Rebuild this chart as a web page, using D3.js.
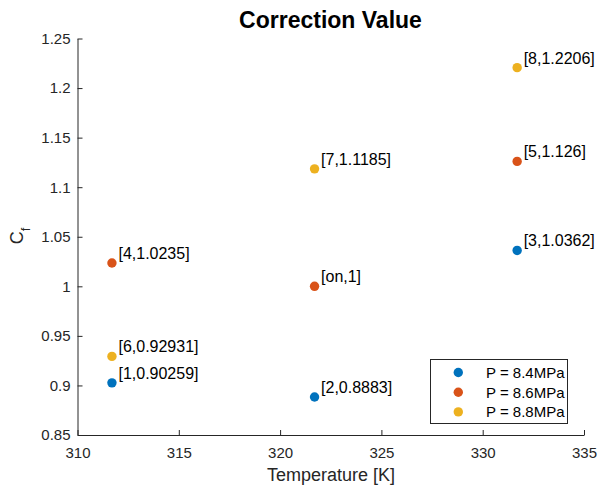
<!DOCTYPE html>
<html>
<head>
<meta charset="utf-8">
<script src="https://cdn.jsdelivr.net/npm/d3@7"></script>
<style>
  html, body { margin: 0; padding: 0; background: #fff; }
  svg { display: block; font-family: "Liberation Sans", Arial, Helvetica, sans-serif; }
</style>
</head>
<body>
<svg id="chart" width="599" height="486"></svg>
<script>
// Temperatures (K) at which the correction factor was evaluated
const temperatures = [311.7, 321.7, 331.7];

// Correction factor per pressure series
const seriesNames = ["P = 8.4MPa", "P = 8.6MPa", "P = 8.8MPa"];
const cf84 = [0.90259, 0.8883, 1.0362];
const cf86 = [1.0235, 1.0, 1.126];
const cf88 = [0.92931, 1.1185, 1.2206];
const seriesColors = ["#0072BD", "#D95319", "#EDB120"];

// Point annotations (index, value) for each series
const tipIds84 = ["1", "2", "3"];
const tipIds86 = ["4", "on", "5"];
const tipIds88 = ["6", "7", "8"];

const xTicks = [310, 315, 320, 325, 330, 335];
const yTicks = [0.85, 0.9, 0.95, 1, 1.05, 1.1, 1.15, 1.2, 1.25];

const series = [
  { name: seriesNames[0], values: cf84, ids: tipIds84, color: seriesColors[0] },
  { name: seriesNames[1], values: cf86, ids: tipIds86, color: seriesColors[1] },
  { name: seriesNames[2], values: cf88, ids: tipIds88, color: seriesColors[2] }
];

const svg = d3.select("#chart");
const axisColor = "#262626";

const x = d3.scaleLinear().domain([310, 335]).range([77.5, 584]);
const y = d3.scaleLinear().domain([0.85, 1.25]).range([435, 38.5]);

// Axes (MATLAB-style: inward ticks, no box)
const xAxis = d3.axisBottom(x).tickValues(xTicks).tickSizeInner(-5).tickSizeOuter(0)
  .tickPadding(12).tickFormat(d3.format("d"));
const yAxis = d3.axisLeft(y).tickValues(yTicks).tickSizeInner(-5).tickSizeOuter(0)
  .tickPadding(12).tickFormat(d => String(+d.toFixed(2)));

const gx = svg.append("g").attr("transform", `translate(0,${y.range()[0]})`).call(xAxis);
const gy = svg.append("g").attr("transform", `translate(${x.range()[0]},0)`).call(yAxis);

[gx, gy].forEach(g => {
  g.select(".domain").attr("stroke", axisColor).attr("stroke-width", 1);
  g.selectAll(".tick line").attr("stroke", axisColor).attr("stroke-width", 1);
  g.selectAll(".tick text").attr("fill", axisColor).attr("font-size", 15)
    .attr("font-family", "Liberation Sans, Arial, sans-serif");
});
gx.selectAll(".tick text").attr("dy", "0.71em").attr("y", 12);
gy.selectAll(".tick text").attr("x", -7);

// Title
svg.append("text")
  .attr("x", 330.5).attr("y", 27.5)
  .attr("text-anchor", "middle")
  .attr("font-size", 23).attr("font-weight", "bold").attr("fill", "#000")
  .text("Correction Value");

// Axis labels
svg.append("text")
  .attr("x", 331).attr("y", 481)
  .attr("text-anchor", "middle")
  .attr("font-size", 18).attr("fill", axisColor)
  .text("Temperature [K]");

const yl = svg.append("text")
  .attr("transform", "translate(23,236) rotate(-90)")
  .attr("text-anchor", "middle")
  .attr("font-size", 18).attr("fill", axisColor);
yl.append("tspan").text("C");
yl.append("tspan").attr("font-size", 13).attr("dy", 7).text("f");

// Points and their annotations
series.forEach(s => {
  const g = svg.append("g");
  const pts = temperatures.map((t, i) => ({ t, v: s.values[i], id: s.ids[i] }));
  g.selectAll("circle").data(pts).join("circle")
    .attr("cx", d => x(d.t)).attr("cy", d => y(d.v))
    .attr("r", 4.7).attr("fill", s.color);
  g.selectAll("text").data(pts).join("text")
    .attr("x", d => x(d.t) + 6.5).attr("y", d => y(d.v) - 4)
    .attr("font-size", 16).attr("fill", "#000")
    .text(d => `[${d.id},${d.v}]`);
});

// Legend
const legend = svg.append("g");
legend.append("rect")
  .attr("x", 430.5).attr("y", 359.5).attr("width", 137).attr("height", 64)
  .attr("fill", "#fff").attr("stroke", axisColor).attr("stroke-width", 1);
series.forEach((s, i) => {
  const cy = 372.5 + i * 19.7;
  legend.append("circle").attr("cx", 458.3).attr("cy", cy).attr("r", 4.7).attr("fill", s.color);
  legend.append("text").attr("x", 486).attr("y", cy + 5.5)
    .attr("font-size", 15).attr("fill", "#000").text(s.name);
});
</script>
</body>
</html>
